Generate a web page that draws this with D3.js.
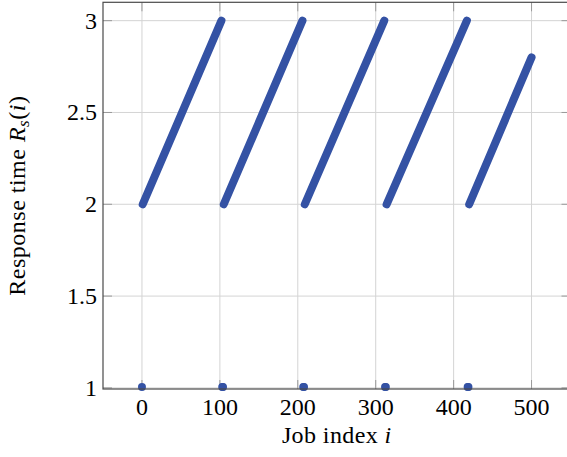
<!DOCTYPE html>
<html>
<head>
<meta charset="utf-8">
<script src="https://cdn.jsdelivr.net/npm/d3@7"></script>
<style>
  html, body { margin: 0; padding: 0; background: #fff; }
  svg { display: block; }
  text { font-family: "Liberation Serif", "Times New Roman", serif; fill: #000; }
</style>
</head>
<body>
<svg id="chart" width="567" height="457"></svg>
<script>
// ---- Data ----
// Linear ramps of response time (job index start/end, value start/end)
const rampStartIdx = [1, 105, 209, 314, 420];
const rampEndIdx   = [102, 206, 311, 417, 500];
const rampStartVal = [2, 2, 2, 2, 2];
const rampEndVal   = [3, 3, 3, 3, 2.8];
// Jobs whose response time drops back to 1
const resetIdx = [0, 103, 104, 207, 208, 312, 313, 418, 419];
const resetVal = [1, 1, 1, 1, 1, 1, 1, 1, 1];
// Axis ticks
const xTicks = [0, 100, 200, 300, 400, 500];
const yTicks = [1, 1.5, 2, 2.5, 3];
const yTickLabels = ["1", "1.5", "2", "2.5", "3"];

// ---- Layout ----
const svg = d3.select("#chart");
const pL = 103, pR = 570.5, pT = 2.3, pB = 389;
const x = d3.scaleLinear().domain([-50, 550]).range([pL, pR]);
const y = d3.scaleLinear().domain([0.994, 3.1]).range([pB, pT]);
const color = "#3452a4";
const tickLen = 9;

// grid
const grid = svg.append("g");
grid.selectAll("line.gx").data(xTicks).join("line")
  .attr("x1", d => x(d)).attr("x2", d => x(d))
  .attr("y1", pT).attr("y2", pB)
  .attr("stroke", "#d4d4d4").attr("stroke-width", 1);
grid.selectAll("line.gy").data(yTicks).join("line")
  .attr("x1", pL).attr("x2", pR)
  .attr("y1", d => y(d)).attr("y2", d => y(d))
  .attr("stroke", "#d4d4d4").attr("stroke-width", 1);

// inward ticks on all four sides
const ticks = svg.append("g").attr("stroke", "#9a9a9a").attr("stroke-width", 1);
xTicks.forEach(t => {
  ticks.append("line").attr("x1", x(t)).attr("x2", x(t)).attr("y1", pB).attr("y2", pB - tickLen);
  ticks.append("line").attr("x1", x(t)).attr("x2", x(t)).attr("y1", pT).attr("y2", pT + tickLen);
});
yTicks.forEach(t => {
  ticks.append("line").attr("x1", pL).attr("x2", pL + tickLen).attr("y1", y(t)).attr("y2", y(t));
  ticks.append("line").attr("x1", pR).attr("x2", pR - tickLen).attr("y1", y(t)).attr("y2", y(t));
});

// data: ramps drawn as thick round-capped strokes (dense markers)
const ramps = rampStartIdx.map((s, k) => ({
  x1: s, y1: rampStartVal[k], x2: rampEndIdx[k], y2: rampEndVal[k]
}));
svg.append("g").selectAll("line").data(ramps).join("line")
  .attr("x1", d => x(d.x1)).attr("y1", d => y(d.y1))
  .attr("x2", d => x(d.x2)).attr("y2", d => y(d.y2))
  .attr("stroke", color).attr("stroke-width", 8).attr("stroke-linecap", "round");

svg.append("g").selectAll("circle").data(resetIdx.map((i, k) => ({i, v: resetVal[k]}))).join("circle")
  .attr("cx", d => x(d.i)).attr("cy", d => y(d.v) - 1).attr("r", 4)
  .attr("fill", color);

// frame
svg.append("rect").attr("x", pL).attr("y", pT)
  .attr("width", pR - pL).attr("height", pB - pT)
  .attr("fill", "none").attr("stroke", "#4a4a4a").attr("stroke-width", 1.2);

// tick labels
svg.append("g").selectAll("text").data(xTicks).join("text")
  .attr("x", d => x(d)).attr("y", 415)
  .attr("text-anchor", "middle").attr("font-size", 24)
  .text(d => d3.format("d")(d));
svg.append("g").selectAll("text").data(yTicks).join("text")
  .attr("x", 97).attr("y", d => y(d) + 8)
  .attr("text-anchor", "end").attr("font-size", 24)
  .text((d, k) => yTickLabels[k]);

// axis labels
const xl = svg.append("text").attr("x", (pL + pR) / 2).attr("y", 443)
  .attr("text-anchor", "middle").attr("font-size", 24).attr("letter-spacing", 0.4);
xl.append("tspan").text("Job index ");
xl.append("tspan").attr("font-style", "italic").text("i");

const yl = svg.append("text")
  .attr("transform", `translate(25,${(pT + pB) / 2}) rotate(-90)`)
  .attr("text-anchor", "middle").attr("font-size", 24).attr("letter-spacing", 0.5);
yl.append("tspan").text("Response time ");
yl.append("tspan").attr("font-style", "italic").text("R");
yl.append("tspan").attr("font-style", "italic").attr("font-size", 17).attr("dy", 4).text("s");
yl.append("tspan").attr("dy", -4).text("(");
yl.append("tspan").attr("font-style", "italic").text("i");
yl.append("tspan").text(")");
</script>
</body>
</html>
